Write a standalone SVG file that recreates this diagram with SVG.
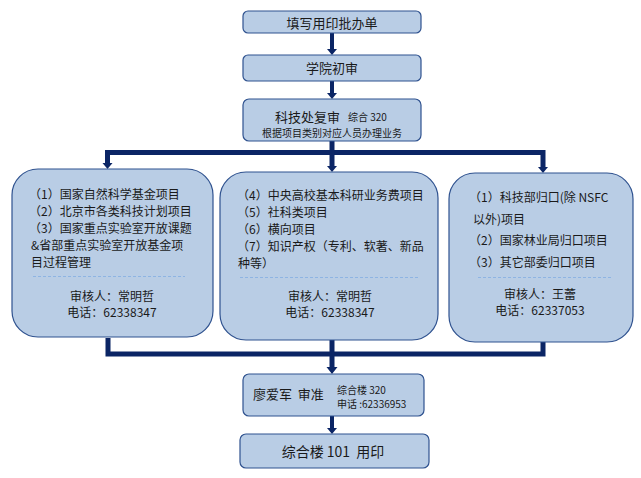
<svg xmlns="http://www.w3.org/2000/svg" width="641" height="478" viewBox="0 0 641 478">
<style>
.box{fill:#b9cde5;stroke:#2f528f;stroke-width:1.2}
.t{font-family:"Noto Sans CJK SC","Liberation Sans",sans-serif;fill:#1a1a1a;white-space:pre}
.c{text-anchor:middle}
.f13{font-size:13px}
.f14{font-size:14px}
.f12{font-size:12px}
.f10{font-size:10px}
.dash{stroke:#8eb4e3;stroke-width:1;stroke-dasharray:3,2;fill:none}
.line{stroke:#0b2565;stroke-width:5;fill:none}
.thin{stroke:#0b2565;stroke-width:4;fill:none}
</style>
<g id="connectors">
<line class="thin" x1="332" y1="33" x2="332" y2="49"/>
<path d="M327,49 L337,49 L332,55 Z" fill="#0b2565"/>
<line class="thin" x1="332" y1="81" x2="332" y2="93"/>
<path d="M327,93 L337,93 L332,99 Z" fill="#0b2565"/>
<line class="line" x1="332" y1="141" x2="332" y2="153"/>
<path class="line" d="M107.5,163 L107.5,152.5 L543,152.5 L543,167" stroke-linejoin="miter"/>
<line class="line" x1="332" y1="152" x2="332" y2="166"/>
<path d="M102.5,163 L112.5,163 L107.5,169 Z" fill="#0b2565"/>
<path d="M327,166 L337,166 L332,172 Z" fill="#0b2565"/>
<path d="M538,167 L548,167 L543,173 Z" fill="#0b2565"/>
<path class="line" d="M108,338 L108,354 L543,354 L543,342" stroke-linejoin="miter"/>
<line class="line" x1="332" y1="340" x2="332" y2="367"/>
<path d="M326.5,367 L337.5,367 L332,374 Z" fill="#0b2565"/>
<line class="thin" x1="332" y1="416" x2="332" y2="428"/>
<path d="M327,428 L337,428 L332,434 Z" fill="#0b2565"/>
</g>
<g id="n1">
<rect class="box" x="243" y="11" width="178" height="22" rx="5"/>
<text class="t c f13" x="332" y="28">填写用印批办单</text>
</g>
<g id="n2">
<rect class="box" x="243" y="55" width="178" height="26" rx="5"/>
<text class="t c f13" x="332" y="73">学院初审</text>
</g>
<g id="n3">
<rect class="box" x="243" y="99" width="178" height="42" rx="6"/>
<text class="t f13" x="275" y="122">科技处复审</text>
<text class="t f10" x="348" y="121">综合 320</text>
<text class="t c f10" x="332" y="137">根据项目类别对应人员办理业务</text>
</g>
<g id="n4">
<rect class="box" x="12" y="169" width="201" height="168" rx="26"/>
<text class="t f12" x="29" y="199">（1）国家自然科学基金项目</text>
<text class="t f12" x="29" y="216">（2）北京市各类科技计划项目</text>
<text class="t f12" x="29" y="233">（3）国家重点实验室开放课题</text>
<text class="t f12" x="31" y="250">&amp;省部重点实验室开放基金项</text>
<text class="t f12" x="31" y="267">目过程管理</text>
<line class="dash" x1="33" y1="276.5" x2="185" y2="276.5"/>
<text class="t c f12" x="112" y="300.5">审核人：常明哲</text>
<text class="t c f12" x="112" y="316.5">电话：62338347</text>
</g>
<g id="n5">
<rect class="box" x="220" y="172" width="218" height="168" rx="26"/>
<text class="t f12" x="237" y="200">（4）中央高校基本科研业务费项目</text>
<text class="t f12" x="237" y="217">（5）社科类项目</text>
<text class="t f12" x="237" y="234">（6）横向项目</text>
<text class="t f12" x="237" y="251">（7）知识产权（专利、软著、新品</text>
<text class="t f12" x="238" y="268">种等）</text>
<line class="dash" x1="240" y1="277.5" x2="418" y2="277.5"/>
<text class="t c f12" x="330" y="300.5">审核人：常明哲</text>
<text class="t c f12" x="330" y="317">电话：62338347</text>
</g>
<g id="n6">
<rect class="box" x="449" y="173" width="184" height="169" rx="26"/>
<text class="t f12" x="469" y="201.5">（1）科技部归口(除 NSFC</text>
<text class="t f12" x="473" y="223.5">以外)项目</text>
<text class="t f12" x="469" y="244.5">（2）国家林业局归口项目</text>
<text class="t f12" x="469" y="266.5">（3）其它部委归口项目</text>
<line class="dash" x1="478" y1="277.5" x2="612" y2="277.5"/>
<text class="t c f12" x="540" y="298.5">审核人：王蕾</text>
<text class="t c f12" x="540" y="314.5">电话：62337053</text>
</g>
<g id="n7">
<rect class="box" x="243" y="374" width="181" height="42" rx="6"/>
<text class="t f13" x="253" y="399">廖爱军  审准</text>
<text class="t f10" x="337" y="394">综合楼 320</text>
<text class="t f10" x="337" y="408">申话 :62336953</text>
</g>
<g id="n8">
<rect class="box" x="240" y="434" width="189" height="34" rx="6"/>
<text class="t c f14" x="333" y="457">综合楼 101  用印</text>
</g>
</svg>
